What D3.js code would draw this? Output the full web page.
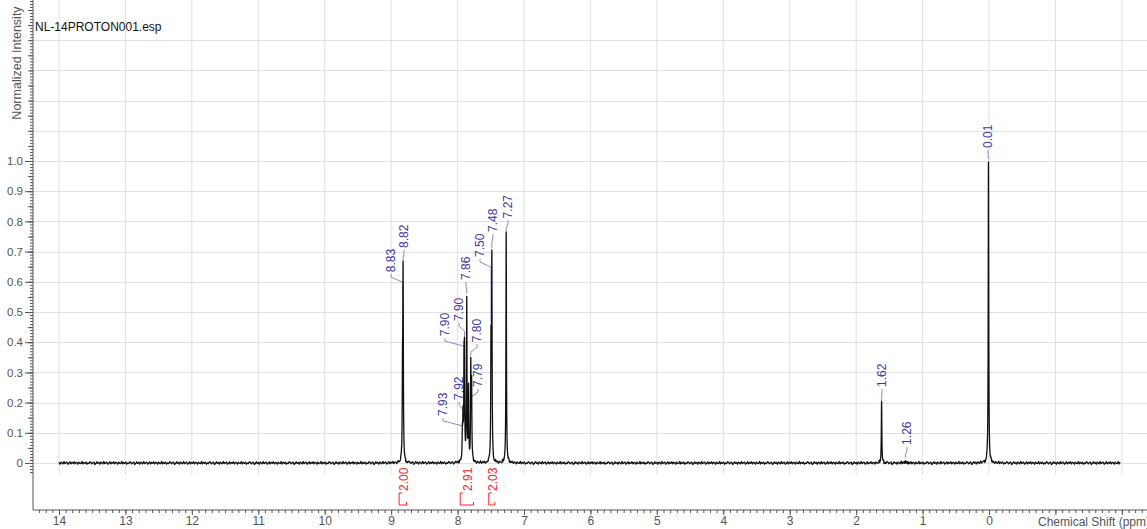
<!DOCTYPE html>
<html>
<head>
<meta charset="utf-8">
<script src="https://cdn.jsdelivr.net/npm/d3@7"></script>
<style>
  body { margin: 0; background: #fff; }
  svg { display: block; font-family: Arial, "Liberation Sans", sans-serif; }
</style>
</head>
<body>
<div id="chart"></div>
<script>
// 1H NMR spectrum, NL-14PROTON001.esp

// peak list (ppm, normalized height)
const peakPpm    = [8.829, 8.820, 7.928, 7.918, 7.903, 7.896, 7.862, 7.835, 7.801, 7.789, 7.497, 7.484, 7.268, 1.617, 1.258, 0.008];
const peakHeight = [0.40,  0.667, 0.13,  0.185, 0.40,  0.41,  0.556, 0.26,  0.348, 0.29,  0.46,  0.705, 0.762, 0.203, 0.012, 1.0];
const peakLabelled = [true, true, true, true, true, true, true, false, true, true, true, true, true, true, true, true];

// where each peak label sits (ppm, intensity of the text's lower end)
const labelPpm = [9.00, 8.806, 8.219, 7.978, 8.190, 7.978, 7.873, null, 7.707, 7.692, 7.662, 7.466, 7.240, 1.611, 1.234, 0.015];
const labelInt = [0.632, 0.712, 0.156, 0.209, 0.420, 0.470, 0.606, null, 0.400, 0.252, 0.682, 0.765, 0.810, 0.252, 0.060, 1.043];

// integrals
const integralText = ['2.00', '2.91', '2.03'];
const integralFrom = [8.88, 7.96, 7.53];
const integralTo   = [8.77, 7.76, 7.44];

// baseline noise texture (hand read, normalized units)
const baselineNoise = [0.002, -0.003, 0.004, -0.001, -0.004, 0.003, 0.001, -0.002, 0.005, -0.003,
                       0.000, 0.003, -0.004, 0.002, -0.001, 0.004, -0.002, -0.005, 0.003, 0.001,
                       -0.003, 0.002, 0.004, -0.002, 0.000, -0.004, 0.003, -0.001, 0.002, -0.003,
                       0.005, -0.002, -0.001, 0.003, -0.004, 0.001, 0.002, -0.003, 0.004, -0.001];

// tick labels
const xTickLabels = d3.range(14, -1, -1);
const yTickLabels = d3.range(0, 11).map(i => i / 10);

const W = 1147, H = 529;
const svg = d3.select('#chart').append('svg').attr('width', W).attr('height', H);

const x = d3.scaleLinear().domain([14, 0]).range([59, 989]);
const y = d3.scaleLinear().domain([0, 1]).range([463, 161]);
const axisX = 33, axisY = 510;

// grid
const grid = svg.append('g');
d3.range(14, -3, -1).forEach(v => {
    grid.append('line').attr('x1', x(v)).attr('x2', x(v)).attr('y1', 0).attr('y2', 475)
        .attr('stroke', '#e0e0e0').attr('stroke-width', 1);
});
d3.range(0, 15).forEach(i => {
    const v = i / 10;
    grid.append('line').attr('x1', axisX).attr('x2', W).attr('y1', Math.round(y(v)) + 0.5).attr('y2', Math.round(y(v)) + 0.5)
        .attr('stroke', '#e0e0e0').attr('stroke-width', 1);
});

// y axis (ruler ticks)
const yAx = svg.append('g').attr('transform', `translate(${axisX},0)`);
yAx.call(d3.axisLeft(y).tickValues(d3.range(-3, 154).map(i => i / 100)).tickSize(3).tickFormat(''));
yAx.call(g => g.selectAll('.domain').remove());
const yMid = svg.append('g').attr('transform', `translate(${axisX},0)`);
yMid.call(d3.axisLeft(y).tickValues(d3.range(0, 31).map(i => i * 0.05)).tickSize(5).tickFormat(''));
yMid.call(g => g.selectAll('.domain').remove());
const yMaj = svg.append('g').attr('transform', `translate(${axisX},0)`);
yMaj.call(d3.axisLeft(y).tickValues(yTickLabels).tickSize(8).tickPadding(2)
    .tickFormat(d => d === 0 ? '0' : d.toFixed(1)));
yMaj.call(g => g.selectAll('.domain').remove());
yMaj.selectAll('text').attr('fill', '#555').attr('font-size', '11.5px').attr('font-family', 'Arial, "Liberation Sans", sans-serif');
svg.append('line').attr('x1', axisX).attr('x2', axisX).attr('y1', 0).attr('y2', axisY)
    .attr('stroke', '#555').attr('stroke-width', 1);

// x axis (ruler ticks)
const xAx = svg.append('g').attr('transform', `translate(0,${axisY})`);
xAx.call(d3.axisBottom(x).tickValues(d3.range(-23, 144).map(i => i / 10)).tickSize(3).tickFormat(''));
xAx.call(g => g.selectAll('.domain').remove());
const xMaj = svg.append('g').attr('transform', `translate(0,${axisY})`);
xMaj.call(d3.axisBottom(x).tickValues(d3.range(14, -3, -1)).tickSize(5).tickPadding(1)
    .tickFormat(d => xTickLabels.includes(d) ? d : ''));
xMaj.call(g => g.selectAll('.domain').remove());
xMaj.selectAll('text').attr('fill', '#555').attr('font-size', '12px').attr('font-family', 'Arial, "Liberation Sans", sans-serif');
svg.selectAll('g.tick line').attr('stroke', '#555');
svg.append('line').attr('x1', axisX).attr('x2', W).attr('y1', axisY).attr('y2', axisY)
    .attr('stroke', '#555').attr('stroke-width', 1);

svg.append('text').attr('x', 1038).attr('y', 526).attr('fill', '#555').attr('font-size', '12px')
    .text('Chemical Shift (ppm)');
svg.append('text').attr('transform', 'translate(21,63) rotate(-90)').attr('text-anchor', 'middle')
    .attr('fill', '#555').attr('font-size', '12.5px').text('Normalized Intensity');
svg.append('text').attr('x', 35).attr('y', 31).attr('fill', '#111').attr('font-size', '12px')
    .text('NL-14PROTON001.esp');

// spectrum from the peak list: Lorentzian lines whose summed heights hit the read values
const gamma = 0.0045;
const lor = d => 1 / (1 + (d / gamma) * (d / gamma));
const n = peakPpm.length;
const M = peakPpm.map((pi, i) => peakPpm.map(pj => lor(pi - pj)).concat([peakHeight[i]]));
for (let c = 0; c < n; c++) {
    let piv = c;
    for (let r = c + 1; r < n; r++) if (Math.abs(M[r][c]) > Math.abs(M[piv][c])) piv = r;
    [M[c], M[piv]] = [M[piv], M[c]];
    for (let r = 0; r < n; r++) {
        if (r === c) continue;
        const f = M[r][c] / M[c][c];
        for (let k = c; k <= n; k++) M[r][k] -= f * M[c][k];
    }
}
const amp = M.map((row, i) => row[n] / row[i]);

const step = 0.015;
let samples = d3.range(14, -1.98, -step);
peakPpm.forEach(p => { samples = samples.concat(d3.range(p + 0.06, p - 0.06, -0.0005)); samples.push(p); });
samples.sort((a, b) => b - a);
const spectrum = samples.map(p => {
    let v = 0;
    for (let j = 0; j < n; j++) v += amp[j] * lor(p - peakPpm[j]);
    const k = Math.round(p / step);
    v += baselineNoise[((k % baselineNoise.length) + baselineNoise.length) % baselineNoise.length];
    return [p, v];
});

// peak label connectors (under the trace)
const labelColor = '#3a3aa6', linkColor = '#8a8ad0';
const labels = svg.append('g');
peakPpm.forEach((p, i) => {
    if (!peakLabelled[i]) return;
    const lx = x(labelPpm[i]), ly = y(labelInt[i]);
    const px = x(p);
    const top = y(peakHeight[i]);
    const jy = ly + 10;
    const pts = [[lx, ly + 2], [lx, ly + 5], [px, jy]];
    if (top - 2 > jy) pts.push([px, top - 2]);
    labels.append('path').attr('d', d3.line()(pts)).attr('fill', 'none')
        .attr('stroke', linkColor).attr('stroke-width', 1);
});

svg.append('path').datum(spectrum)
    .attr('d', d3.line().x(d => x(d[0])).y(d => y(d[1])))
    .attr('fill', 'none').attr('stroke', '#111').attr('stroke-width', 1.3).attr('stroke-linejoin', 'round');

peakPpm.forEach((p, i) => {
    if (!peakLabelled[i]) return;
    const lx = x(labelPpm[i]), ly = y(labelInt[i]);
    labels.append('text').attr('transform', `translate(${lx},${ly}) rotate(-90)`)
        .attr('dy', '0.35em').attr('fill', labelColor).attr('font-size', '12px')
        .text(p.toFixed(2));
});

// integrals
integralText.forEach((t, i) => {
    const x1 = x(integralFrom[i]), x2 = x(integralTo[i]);
    const g = svg.append('g');
    g.append('path').attr('d', `M${x1 + 3},493 H${x1} V505 H${x2} V502`)
        .attr('fill', 'none').attr('stroke', '#ff2020').attr('stroke-width', 1);
    g.append('text').attr('transform', `translate(${(x1 + x2) / 2 + 1},491) rotate(-90)`)
        .attr('dy', '0.35em').attr('fill', '#ff2020').attr('font-size', '12px').text(t);
});
</script>
</body>
</html>
